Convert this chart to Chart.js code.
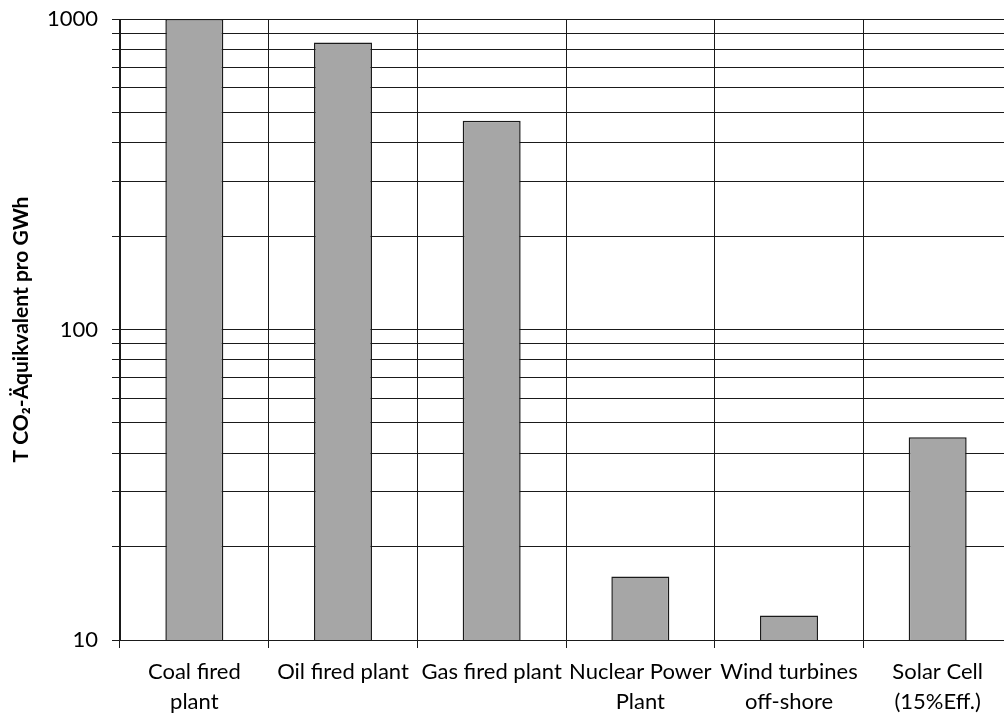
<!DOCTYPE html>
<html><head><meta charset="utf-8">
<script src="https://cdn.jsdelivr.net/npm/chart.js@4.4.1/dist/chart.umd.min.js"></script>
<style>
html,body{margin:0;padding:0;overflow:hidden;background:#fff}
#wrap{position:absolute;left:0;top:0;width:1012px;height:715px}
</style>
</head><body><div id="wrap"><canvas id="c"></canvas></div>
<script>
const categories = [["Coal fired","plant"],["Oil fired plant"],["Gas fired plant"],["Nuclear Power","Plant"],["Wind turbines","off-shore"],["Solar Cell","(15%Eff.)"]];
const emissions = [1000, 840, 470, 16, 12, 45];
const yTickValues = [10,20,30,40,50,60,70,80,90,100,200,300,400,500,600,700,800,900,1000];
const yLabeledTicks = [10,100,1000];
const yTitle = 'T CO\u2082-\u00C4quikvalent pro GWh';

const FONT = 'Lato, "Open Sans", sans-serif';
new Chart(document.getElementById('c'), {
  type: 'bar',
  data: {
    labels: categories,
    datasets: [{
      data: emissions,
      backgroundColor: '#a6a6a6',
      borderColor: '#1a1a1a',
      borderWidth: 1.5,
      categoryPercentage: 1,
      barPercentage: 0.39
    }]
  },
  options: {
    responsive: true,
    maintainAspectRatio: false,
    animation: false,
    layout: { padding: { left: 0, top: 19, right: 0, bottom: 0 } },
    plugins: { legend: { display: false }, tooltip: { enabled: false } },
    scales: {
      x: {
        type: 'category',
        grid: { offset: true, color: '#1a1a1a', lineWidth: 1, tickLength: 8, drawOnChartArea: true },
        border: { color: '#1a1a1a', width: 1 },
        ticks: { color: '#000', font: { family: FONT, size: 22, lineHeight: 1.36 }, maxRotation: 0, minRotation: 0, autoSkip: false, padding: 9 },
        afterFit: s => { s.height = 75; s.paddingLeft = 0; s.paddingRight = 0; }
      },
      y: {
        type: 'logarithmic',
        min: 10, max: 1000,
        afterBuildTicks: s => { s.ticks = yTickValues.map(v => ({ value: v })); },
        grid: { color: '#1a1a1a', lineWidth: 1, tickLength: 8 },
        border: { color: '#1a1a1a', width: 1 },
        ticks: {
          autoSkip: false,
          color: '#000',
          font: { family: FONT, size: 22 },
          padding: 14,
          callback: v => yLabeledTicks.includes(v) ? String(v) : ''
        },
        title: { display: true, text: yTitle, color: '#000', font: { family: FONT, size: 21, weight: 'bold' }, padding: { top: 9, bottom: 0 } },
        afterFit: s => { s.width = 120; s.paddingTop = 0; s.paddingBottom = 0; }
      }
    }
  }
});
</script>
</body></html>
